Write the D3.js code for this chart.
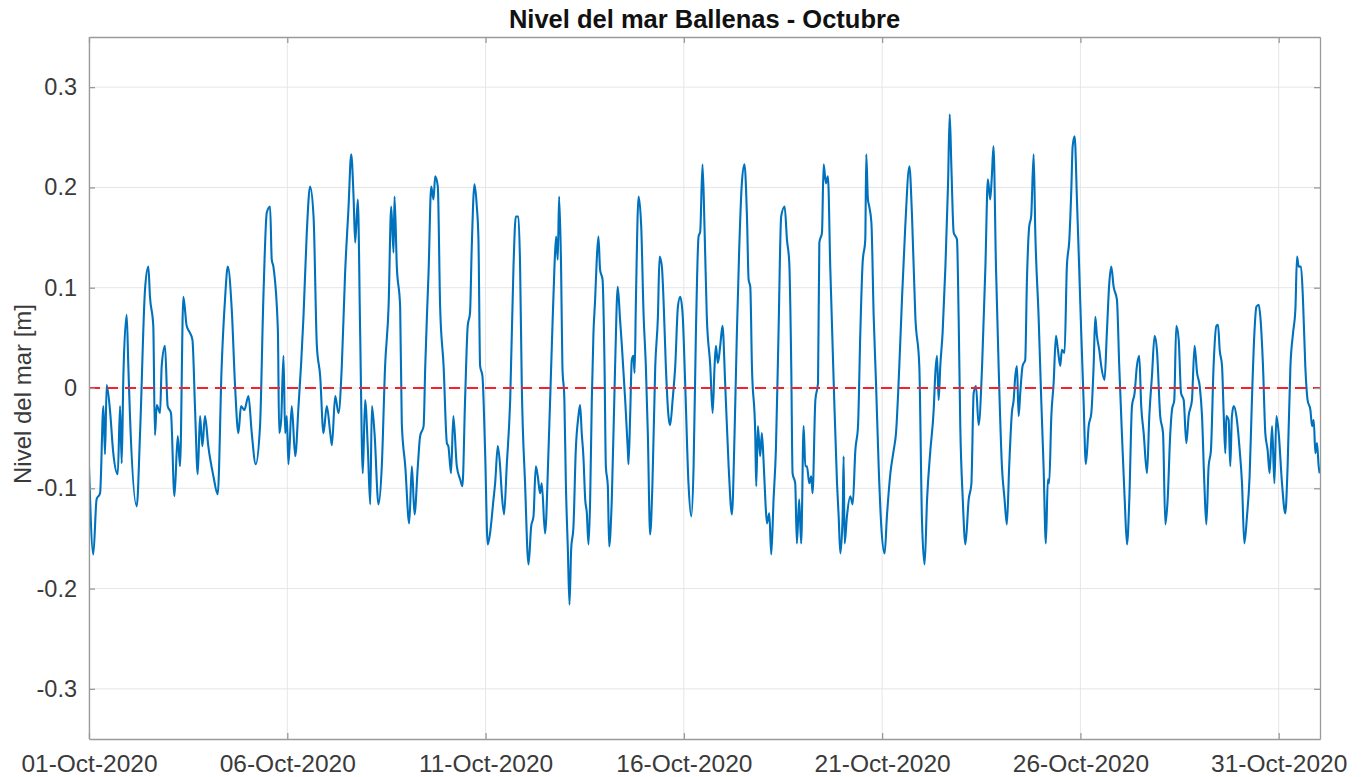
<!DOCTYPE html>
<html lang="es">
<head>
<meta charset="utf-8">
<title>Nivel del mar Ballenas - Octubre</title>
<script src="https://cdn.jsdelivr.net/npm/d3@7"></script>
<style>
  html, body { margin: 0; padding: 0; background: #ffffff; }
  svg { display: block; }
</style>
</head>
<body>
<svg id="chart" width="1364" height="777"></svg>
<script>
// Hourly offsets from 01-Oct-2020 00:00 (UTC) and the sea level [m] at each one.
const horas = [
  0,2.6,4.6,6.7,8.7,9.7,10.7,12.7,14.7,17.4,18.8,19.8,20.8,22.8,23.8,24.8,28.9,30.9,33.9,35.9,
  36.9,38.9,39.9,41,43,44,46,47.6,49.6,51.7,53.7,55.1,57.1,59.1,61.1,62.6,64.2,65.8,67.2,68.6,
  70.2,72.2,75.3,77.9,80.3,82.3,84,86.4,88.4,90.4,92,94,96.5,98.5,100.9,103.5,105.5,
  107.6,109.6,110.6,111.6,114.3,115.1,116.3,117.7,118.7,119.7,120.7,122.7,124.8,126.8,128.4,
  129.8,131.8,133.8,135.9,137.9,139.9,141.9,143.9,146,147,149,151,153,155,157,158.7,160.1,161.1,
  162.7,164.1,165.7,167.1,168.8,170.2,171.2,172.8,175.2,177.2,179.2,181.3,182.9,184.3,184.9,
  186.3,188.3,189.3,191.4,193.8,195.4,197,199,200.4,202.5,203.5,204.5,205.5,207.1,208.5,209.5,
  211.1,212.5,214.6,216.6,
  217.5,219.1,220.5,222.6,224.6,226,227.6,229.2,230.6,231.6,233.3,234.7,235.7,236.7,238.1,
  239.7,241.3,242.7,244.8,245.8,247.4,248.8,249.8,251.2,252.8,254.9,256.9,258.3,259.9,260.9,
  261.9,263.9,266,267.6,269,270.4,271.6,273,274,276,278.1,280.1,281.7,282.7,283.7,284.5,285.7,
  286.5,287.7,288.6,289.8,290.8,291.8,293.2,294.6,296.2,297.2,298.2,299.2,300.3,301.3,302.3,
  303.3,304.3,305.3,306.3,307.3,308.3,309.3,310.8,312,312.8,314,314.8,316.4,318.4,320,321.4,
  322.5,324.5,326.1,
  326.5,327.5,328.5,329.5,330.2,331,332.6,334.2,335.6,337,338.2,339.6,341,342.7,344.3,345.3,
  346.7,347.7,349.1,350.7,351.7,353.2,354.8,356.4,357.8,359.2,360.8,362.8,364.5,365.9,367.3,
  368.9,369.9,371.3,372.5,373.9,376,377.4,378.6,379.4,380.6,382,383.4,385,387.1,389.1,390.7,
  392.1,393.5,395.1,396.7,398.2,399.2,400.2,401.2,403.2,403.8,404.8,406.2,407.2,408.2,409.3,
  410.3,411.7,412.9,414.3,415.7,417.3,418.9,421,422.4,423.8,425,425.8,427.4,428.4,429.8,431,
  432.5,433.5,
  434.5,435.9,437.1,437.9,439.6,441.2,442,443.6,444.6,446,447.2,448.6,450.7,452.7,453.7,454.7,
  456.1,456.7,457.3,458.7,460.7,462.2,463.8,465.4,466.8,468.2,469.8,470.4,471.4,472.2,473.5,
  474.9,476.3,477.9,479.5,481.5,482.9,485,487,488.4,490.4,492,494,496.5,498.1,500.1,502.5,
  504.1,505.7,507.2,509.2,511.2,512.2,513.2,514.2,515.2,516.6,518.3,519.9,520.9,521.9,523.3,
  525.3,526.3,527.3,528.8,530.4,532.4,534,535.4,536.8,538.4,540.5,542.5,
  544,545.4,546.4,547.4,548.9,550.5,552.5,554.1,555.5,556.9,558.5,559.6,560.6,561.6,562.6,
  563.6,565,566.6,567.6,569,570.2,571.7,572.7,574.7,576.3,577.7,579.1,580.3,581.1,582.4,583.8,
  585.2,586.4,587.8,588.8,590.4,591.8,593.3,594.5,595.3,596.5,597.9,598.9,600.5,601.9,603.3,
  605,606.6,608,609,610,611.4,612.6,614.6,616,617.5,618.7,620.1,622.1,623.5,625.1,626.8,628.2,
  629.6,631.2,632.8,634.2,635.6,636.8,638.3,640.3,641.7,643.3,644.9,646.3,648.3,
  650,651.4,652.8,654.4,655.4,656.8,658,659.5,660.9,662.5,664.1,665.5,667.5,669.1,670.6,672.2,
  673.6,675,676.2,677.6,679,680.6,682.3,683.3,684.3,685.7,686.7,687.7,688.3,689.7,690.7,691.7,
  692.8,694.4,696.4,697.8,699.2,700.8,702.4,703.8,705.3,706.5,707.9,708.9,710.5,711.9,713.3,
  714.5,716,717.4,718.6,720,722,724,725.4,727.1,728.7,730.1,731.1,732.1,733.5,734.7,736.1,
  737.5,739.2,740.2,741.2,742.2,743.2,744.2,744.8
];

const nivel = [
  -0.078,-0.166,-0.111,-0.105,-0.018,-0.066,0.003,-0.022,-0.065,-0.086,-0.018,-0.075,0.012,0.073,0.022,-0.028,-0.118,-0.045,0.098,0.121,
  0.091,0.062,-0.047,-0.017,-0.025,0.022,0.042,-0.018,-0.025,-0.108,-0.048,-0.078,0.091,0.062,0.055,0.048,-0.022,-0.086,-0.028,-0.058,
  -0.028,-0.058,-0.088,-0.106,0.022,0.088,0.121,0.078,0.002,-0.045,-0.018,-0.022,-0.008,-0.045,-0.076,-0.038,0.088,
  0.175,0.181,0.128,0.121,0.058,-0.045,-0.032,0.032,-0.045,-0.028,-0.076,-0.018,-0.068,-0.018,0.025,
  0.071,0.155,0.201,0.171,0.042,0.012,-0.045,-0.018,-0.045,-0.057,-0.008,-0.025,0.022,0.115,0.178,0.233,0.191,0.145,
  0.188,0.055,-0.085,-0.012,-0.062,-0.116,-0.018,-0.045,-0.116,-0.078,0.022,0.081,0.181,0.135,0.191,
  0.121,0.081,-0.035,-0.078,-0.135,-0.078,-0.126,-0.078,-0.048,-0.038,0.022,0.071,0.115,0.201,0.188,0.211,
  0.201,0.081,0.022,-0.055,
  -0.058,-0.085,-0.028,-0.078,-0.091,-0.098,-0.012,0.062,0.075,0.138,0.203,0.181,0.148,0.022,0.012,
  -0.062,-0.156,-0.145,-0.111,-0.095,-0.058,-0.078,-0.105,-0.126,-0.078,-0.012,0.121,0.171,0.171,0.121,
  0.005,-0.095,-0.176,-0.138,-0.128,-0.078,-0.088,-0.105,-0.095,-0.145,-0.062,0.042,0.121,0.151,0.128,0.191,0.121,
  0.022,-0.012,-0.095,-0.161,-0.216,-0.161,-0.138,-0.062,-0.028,-0.017,-0.045,-0.068,-0.111,-0.125,-0.156,
  -0.111,-0.012,0.055,0.088,0.128,0.151,0.118,0.108,0.022,-0.078,-0.098,-0.158,-0.111,0.022,0.101,0.068,
  0.042,-0.012,-0.062,
  -0.076,-0.028,0.028,0.032,0.015,0.088,0.191,0.161,0.075,0.022,-0.045,-0.146,-0.095,0.022,0.071,0.131,
  0.121,0.088,0.022,-0.028,-0.037,-0.012,0.022,0.081,0.091,0.075,0.005,-0.095,-0.128,-0.078,0.055,
  0.151,0.156,0.223,0.161,0.071,0.022,-0.025,0.022,0.042,0.025,0.042,0.062,0.005,-0.078,-0.126,-0.045,
  0.055,0.138,0.204,0.223,0.171,0.108,0.101,0.022,-0.045,-0.098,-0.038,-0.068,-0.045,-0.071,-0.111,
  -0.135,-0.125,-0.166,-0.111,-0.062,0.055,0.171,0.181,0.148,0.125,0.022,-0.085,-0.095,-0.155,-0.111,-0.155,
  -0.038,-0.078,
  -0.078,-0.095,-0.088,-0.105,-0.012,0.005,0.145,0.155,0.223,0.204,0.211,0.121,0.005,-0.095,-0.128,-0.165,
  -0.128,-0.068,-0.155,-0.128,-0.108,-0.116,-0.062,-0.038,0.055,0.125,0.148,0.233,0.188,0.181,0.165,
  0.071,0.005,-0.078,-0.138,-0.165,-0.128,-0.085,-0.062,-0.045,0.022,0.088,0.161,0.221,0.171,0.071,0.022,
  -0.131,-0.176,-0.111,-0.062,-0.022,0.015,0.032,-0.012,0.022,0.055,0.121,0.204,0.273,0.221,0.155,
  0.148,0.071,-0.038,-0.111,-0.156,-0.111,-0.096,-0.005,0.002,-0.037,0.022,0.121,
  0.208,0.188,0.211,0.241,0.121,0.022,-0.078,-0.111,-0.136,-0.078,-0.025,-0.012,0.012,0.022,-0.028,
  -0.005,0.022,0.028,0.105,0.161,0.171,0.233,0.155,0.071,-0.012,-0.078,-0.155,-0.091,-0.095,-0.028,0.005,
  0.052,0.038,0.022,0.038,0.035,0.121,0.148,0.198,0.241,0.251,0.188,0.138,0.055,-0.012,-0.076,
  -0.038,-0.025,0.022,0.071,0.052,0.038,0.022,0.008,0.055,0.105,0.121,0.101,0.088,0.022,-0.045,-0.111,-0.156,
  -0.111,-0.018,-0.005,0.022,0.032,-0.018,-0.045,-0.085,-0.028,0.012,0.052,0.038,-0.028,
  -0.045,-0.136,-0.111,-0.045,-0.022,-0.012,0.062,0.048,-0.005,-0.012,-0.055,-0.028,-0.012,0.042,0.015,0.002,
  -0.028,-0.095,-0.136,-0.078,-0.062,0.022,0.062,0.063,0.038,0.022,-0.025,-0.065,-0.028,-0.032,-0.078,-0.028,
  -0.018,-0.028,-0.062,-0.095,-0.155,-0.128,-0.088,-0.012,0.055,0.081,0.083,0.071,0.022,-0.045,-0.062,
  -0.085,-0.038,-0.095,-0.028,-0.045,-0.095,-0.125,-0.078,0.022,0.055,0.078,0.131,0.121,0.121,0.088,0.022,
  -0.012,-0.022,-0.038,-0.032,-0.065,-0.055,-0.078,-0.085
];

// Axis ticks and labels
const diasTick = [1, 6, 11, 16, 21, 26, 31];
const etiquetasX = ["01-Oct-2020", "06-Oct-2020", "11-Oct-2020", "16-Oct-2020",
                    "21-Oct-2020", "26-Oct-2020", "31-Oct-2020"];
const ticksY = [-0.3, -0.2, -0.1, 0, 0.1, 0.2, 0.3];
const etiquetasY = ["-0.3", "-0.2", "-0.1", "0", "0.1", "0.2", "0.3"];
const limitesY = [-0.35, 0.35];
const horasTotales = 745;
const nivelReferencia = 0;

const titulo = "Nivel del mar Ballenas - Octubre";
const etiquetaEjeY = "Nivel del mar [m]";

const W = 1364, H = 777;
const margin = { top: 37, right: 44, bottom: 38, left: 89 };
const inicio = Date.UTC(2020, 9, 1);
const aFecha = h => new Date(inicio + h * 3600e3);

const svg = d3.select("#chart");
const FONT = "'Liberation Sans', Arial, Helvetica, sans-serif";

const x = d3.scaleUtc()
  .domain([aFecha(0), aFecha(horasTotales)])
  .range([margin.left, W - margin.right]);
const y = d3.scaleLinear()
  .domain(limitesY)
  .range([H - margin.bottom, margin.top]);

const fechasTick = diasTick.map(d => new Date(Date.UTC(2020, 9, d)));

// Grid
const grid = svg.append("g").attr("class", "grid");
grid.selectAll("line.gx").data(fechasTick).join("line")
  .attr("x1", d => x(d)).attr("x2", d => x(d))
  .attr("y1", margin.top).attr("y2", H - margin.bottom)
  .attr("stroke", "#e6e6e6").attr("stroke-width", 1);
grid.selectAll("line.gy").data(ticksY).join("line")
  .attr("x1", margin.left).attr("x2", W - margin.right)
  .attr("y1", d => y(d)).attr("y2", d => y(d))
  .attr("stroke", "#e6e6e6").attr("stroke-width", 1);

// Sea level series
const serie = d3.zip(horas, nivel).map(([h, v]) => ({ t: aFecha(h), v }));
const linea = d3.line()
  .x(d => x(d.t))
  .y(d => y(d.v))
  .curve(d3.curveMonotoneX);

svg.append("defs").append("clipPath").attr("id", "area")
  .append("rect")
  .attr("x", margin.left).attr("y", margin.top)
  .attr("width", W - margin.left - margin.right)
  .attr("height", H - margin.top - margin.bottom);

svg.append("path")
  .datum(serie)
  .attr("clip-path", "url(#area)")
  .attr("fill", "none")
  .attr("stroke", "#0072BD")
  .attr("stroke-width", 2.1)
  .attr("stroke-linejoin", "round")
  .attr("d", linea);

// Zero reference line
svg.append("line")
  .attr("x1", x(aFecha(0))).attr("x2", x(aFecha(horasTotales)))
  .attr("y1", y(nivelReferencia)).attr("y2", y(nivelReferencia))
  .attr("stroke", "#f2232a")
  .attr("stroke-width", 2)
  .attr("stroke-dasharray", "11,7");

// Axes (box with inward ticks on all sides)
const colorEje = "#9a9a9a";
const ejeX = d3.axisBottom(x).tickValues(fechasTick)
  .tickFormat((d, i) => etiquetasX[i]).tickSizeInner(-6).tickSizeOuter(0).tickPadding(16);
const ejeXTop = d3.axisTop(x).tickValues(fechasTick)
  .tickFormat("").tickSizeInner(-6).tickSizeOuter(0);
const ejeY = d3.axisLeft(y).tickValues(ticksY)
  .tickFormat((d, i) => etiquetasY[i]).tickSizeInner(-6).tickSizeOuter(0).tickPadding(12);
const ejeYRight = d3.axisRight(y).tickValues(ticksY)
  .tickFormat("").tickSizeInner(-6).tickSizeOuter(0);

function estilo(g, size) {
  g.select(".domain").attr("stroke", colorEje).attr("stroke-width", 1.3);
  g.selectAll(".tick line").attr("stroke", colorEje).attr("stroke-width", 1.3);
  g.selectAll(".tick text")
    .attr("fill", "#3a3a3a")
    .style("font-family", FONT)
    .style("font-size", size + "px");
}

svg.append("g").attr("transform", `translate(0,${H - margin.bottom})`).call(ejeX).call(estilo, 24.5);
svg.append("g").attr("transform", `translate(0,${margin.top})`).call(ejeXTop).call(estilo, 24);
svg.append("g").attr("transform", `translate(${margin.left},0)`).call(ejeY).call(estilo, 23.5);
svg.append("g").attr("transform", `translate(${W - margin.right},0)`).call(ejeYRight).call(estilo, 24);

// Title
svg.append("text")
  .attr("x", (margin.left + W - margin.right) / 2)
  .attr("y", 28)
  .attr("text-anchor", "middle")
  .style("font-family", FONT)
  .style("font-size", "25.5px")
  .style("font-weight", "bold")
  .attr("fill", "#111")
  .text(titulo);

// Y axis label
svg.append("text")
  .attr("transform", `translate(31,${(margin.top + H - margin.bottom) / 2 + 6}) rotate(-90)`)
  .attr("text-anchor", "middle")
  .style("font-family", FONT)
  .style("font-size", "24px")
  .attr("fill", "#3a3a3a")
  .text(etiquetaEjeY);
</script>
</body>
</html>
